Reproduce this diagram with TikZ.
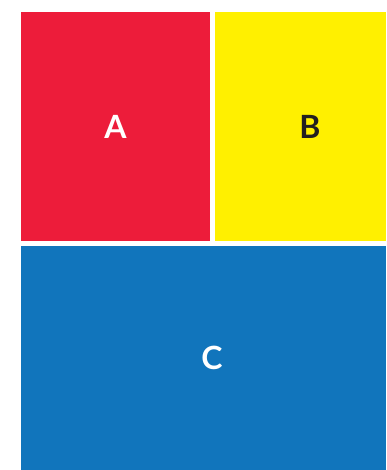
\documentclass[tikz,border=0pt]{standalone}
\usepackage{fontspec}
\setmainfont{Lato}
\usetikzlibrary{positioning}

\definecolor{cellred}{HTML}{ED1C3A}
\definecolor{cellyellow}{HTML}{FFF000}
\definecolor{cellblue}{HTML}{1175BC}
\definecolor{celltext}{HTML}{231F20}

\begin{document}
\begin{tikzpicture}[x=1pt, y=-1pt, node distance=5pt and 5pt,
    cell/.style={rectangle, inner sep=0pt, outer sep=0pt},
    tag/.style={font=\fontsize{32}{32}\selectfont\bfseries}]

    \useasboundingbox (0,0) rectangle (386,470);

    % Bloques
    \node [cell, fill=cellred, minimum width=189pt, minimum height=229pt, anchor=north west,
        label={[tag, text=white]center:A}] (blockA) at (21,12) {};
    \node [cell, fill=cellyellow, minimum width=171pt, minimum height=229pt, right=of blockA,
        label={[tag, text=celltext, xshift=9.5pt]center:B}] (blockB) {};
    \node [cell, fill=cellblue, minimum width=365pt, minimum height=224pt, below=of blockA.south west, anchor=north west,
        label={[tag, text=white, xshift=8.5pt]center:C}] (blockC) {};

\end{tikzpicture}
\end{document}
